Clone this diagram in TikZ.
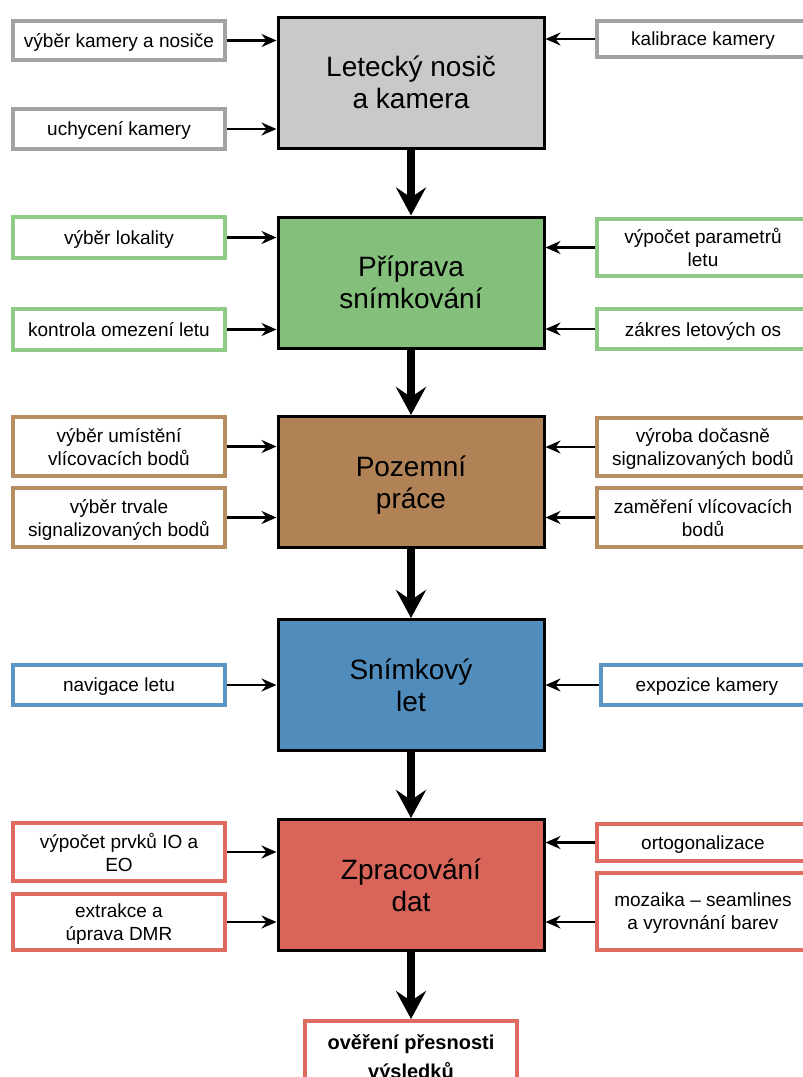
\documentclass[tikz,border=0pt]{standalone}
\usepackage{fontspec}
\setmainfont{Liberation Sans}
\usetikzlibrary{arrows.meta}
\definecolor{stagegray}{HTML}{C9C9C9}
\definecolor{taskgray}{HTML}{A3A3A3}
\definecolor{stagegreen}{HTML}{84C07C}
\definecolor{taskgreen}{HTML}{8FCB87}
\definecolor{stagebrown}{HTML}{B08256}
\definecolor{taskbrown}{HTML}{B78D62}
\definecolor{stageblue}{HTML}{508DBD}
\definecolor{taskblue}{HTML}{5A95C3}
\definecolor{stagered}{HTML}{D9645A}
\definecolor{taskred}{HTML}{DE6B60}
\begin{document}
\begin{tikzpicture}[
  x=0.5pt,y=-0.5pt,
  stage/.style={draw=black,line width=1.5pt,minimum width=133pt,
    minimum height=65.5pt,inner sep=0pt,align=center,text depth=0pt,
    font=\fontsize{14}{16}\selectfont},
  task/.style={draw=#1,fill=white,line width=2pt,minimum width=106pt,
    inner sep=0pt,align=center,text depth=0pt,
    font=\fontsize{9.5}{11.5}\selectfont},
  flow/.style={line width=4pt,-{Stealth[length=14pt,width=15pt,inset=5pt]}},
  feed/.style={line width=1.3pt,-{Stealth[length=7.5pt,width=6.5pt,inset=2.5pt]}}
]
  \fill[white] (0,0) rectangle (803,1077);
  \path[use as bounding box,clip] (0,0) rectangle (803,1077);

  % Letecký nosič a kamera
  \node[stage,fill=stagegray] (nosic) at (411,82.5) {Letecký nosič\\a kamera};
  \node[task=taskgray,minimum height=19.5pt] (vyberkam) at (119,40.5)
    {výběr kamery a nosiče};
  \node[task=taskgray,minimum height=20pt] (uchyceni) at (119,129)
    {uchycení kamery};
  \node[task=taskgray,minimum height=18pt] (kalibrace) at (703,39)
    {kalibrace kamery};

  % Příprava snímkování
  \node[stage,fill=stagegreen] (priprava) at (411,282.5) {Příprava\\snímkování};
  \node[task=taskgreen,minimum height=20.5pt] (lokalita) at (119,237.5)
    {výběr lokality};
  \node[task=taskgreen,minimum height=20.5pt] (omezeni) at (119,329.5)
    {kontrola omezení letu};
  \node[task=taskgreen,minimum height=28.5pt] (parametry) at (703,247.5)
    {výpočet parametrů\\letu};
  \node[task=taskgreen,minimum height=20pt] (osy) at (703,329)
    {zákres letových os};

  % Pozemní práce
  \node[stage,fill=stagebrown] (pozemni) at (411,482) {Pozemní\\práce};
  \node[task=taskbrown,minimum height=29.5pt] (umisteni) at (119,446.5)
    {výběr umístění\\vlícovacích bodů};
  \node[task=taskbrown,minimum height=29.5pt] (trvale) at (119,517.5)
    {výběr trvale\\signalizovaných bodů};
  \node[task=taskbrown,minimum height=29pt] (docasne) at (703,447)
    {výroba dočasně\\signalizovaných bodů};
  \node[task=taskbrown,minimum height=29.5pt] (zamereni) at (703,517.5)
    {zaměření vlícovacích\\bodů};

  % Snímkový let
  \node[stage,fill=stageblue] (snimkovy) at (411,685) {Snímkový\\let};
  \node[task=taskblue,minimum height=20pt] (navigace) at (119,685)
    {navigace letu};
  \node[task=taskblue,minimum height=20pt] (expozice) at (707,685)
    {expozice kamery};

  % Zpracování dat
  \node[stage,fill=stagered] (zpracovani) at (411,885) {Zpracování\\dat};
  \node[task=taskred,minimum height=29pt] (prvky) at (119,852)
    {výpočet prvků IO a\\EO};
  \node[task=taskred,minimum height=28pt] (dmr) at (119,922)
    {extrakce a\\úprava DMR};
  \node[task=taskred,minimum height=18.5pt] (orto) at (703,842.5)
    {ortogonalizace};
  \node[task=taskred,minimum height=38.5pt] (mozaika) at (703,911.5)
    {mozaika – seamlines\\a vyrovnání barev};

  % výsledek
  \node[task=taskred,minimum height=36pt,
    font=\fontsize{10}{14.5}\selectfont\bfseries] (overeni) at (411,1057)
    {ověření přesnosti\\výsledků};

  % hlavní tok
  \foreach \a/\b in {nosic/priprava,priprava/pozemni,pozemni/snimkovy,
      snimkovy/zpracovani,zpracovani/overeni}
    \draw[flow] (\a) -- (\b);

  % vstupy zleva
  \foreach \t/\s in {vyberkam/nosic,uchyceni/nosic,lokalita/priprava,
      omezeni/priprava,umisteni/pozemni,trvale/pozemni,navigace/snimkovy,
      prvky/zpracovani,dmr/zpracovani}
    \draw[feed] (\t.east) -- (\t.east -| \s.west);

  % vstupy zprava
  \foreach \t/\s in {kalibrace/nosic,parametry/priprava,osy/priprava,
      docasne/pozemni,zamereni/pozemni,expozice/snimkovy,orto/zpracovani}
    \draw[feed] (\t.west) -- (\t.west -| \s.east);
  \draw[feed] ([yshift=-5.25pt]mozaika.west)
    -- ([yshift=-5.25pt]mozaika.west -| zpracovani.east);
\end{tikzpicture}
\end{document}
